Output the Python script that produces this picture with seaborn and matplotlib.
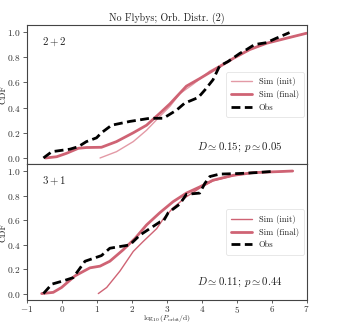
import numpy as np
import pandas as pd
import matplotlib
matplotlib.use("Agg")
import matplotlib.pyplot as plt
import seaborn as sns

# ---- data ----
top_obs_x = [-0.53, -0.29, 0.23, 0.47, 0.70, 0.99, 1.13, 1.42, 1.94, 2.51, 2.90, 3.28, 3.51, 3.90, 4.09, 4.32, 4.51, 4.75, 5.09, 5.28, 5.51, 5.85, 6.13, 6.51]
top_obs_y = [0.0, 0.05, 0.07, 0.09, 0.13, 0.16, 0.20, 0.26, 0.29, 0.315, 0.315, 0.38, 0.435, 0.48, 0.54, 0.62, 0.73, 0.765, 0.83, 0.86, 0.90, 0.915, 0.95, 0.995]
top_fin_x = [-0.47, -0.15, 0.13, 0.47, 0.70, 1.13, 1.56, 2.04, 2.42, 2.80, 3.09, 3.56, 3.94, 4.42, 4.90, 5.37, 5.85, 6.42, 7.0]
top_fin_y = [0.0, 0.01, 0.037, 0.077, 0.083, 0.085, 0.13, 0.20, 0.26, 0.355, 0.43, 0.57, 0.63, 0.71, 0.79, 0.86, 0.91, 0.95, 0.99]
top_ini_x = [1.09, 1.56, 2.04, 2.42, 2.80, 3.09, 3.37, 3.75, 4.23, 4.60, 4.90, 5.37, 5.85, 6.42, 7.0]
top_ini_y = [0.0, 0.05, 0.13, 0.22, 0.33, 0.41, 0.51, 0.585, 0.69, 0.745, 0.79, 0.86, 0.91, 0.95, 0.99]

bot_obs_x = [-0.53, -0.29, 0.04, 0.32, 0.66, 1.13, 1.37, 1.66, 1.94, 2.23, 2.80, 2.90, 3.04, 3.37, 3.56, 3.94, 4.09, 4.23, 4.51, 5.09, 5.56, 6.03]
bot_obs_y = [0.0, 0.077, 0.104, 0.13, 0.264, 0.31, 0.37, 0.384, 0.397, 0.477, 0.584, 0.59, 0.66, 0.73, 0.81, 0.82, 0.90, 0.955, 0.975, 0.98, 0.987, 0.997]
bot_fin_x = [-0.58, -0.25, -0.01, 0.37, 0.80, 1.09, 1.37, 1.75, 2.09, 2.42, 2.80, 3.18, 3.56, 3.94, 4.32, 4.90, 5.47, 6.60]
bot_fin_y = [0.0, 0.01, 0.05, 0.144, 0.21, 0.224, 0.264, 0.357, 0.45, 0.56, 0.66, 0.75, 0.82, 0.87, 0.925, 0.965, 0.987, 1.0]
bot_ini_x = [1.04, 1.28, 1.66, 2.04, 2.32, 2.71, 2.90, 3.18, 3.56, 3.94, 4.32, 4.90, 5.47, 6.60]
bot_ini_y = [0.0, 0.05, 0.184, 0.344, 0.424, 0.53, 0.61, 0.70, 0.79, 0.86, 0.92, 0.962, 0.985, 1.0]

panel_labels = ["$2+2$", "$3+1$"]
stats = [r"$D\simeq0.15$; $p\simeq0.05$", r"$D\simeq0.11$; $p\simeq0.44$"]
title = "No Flybys; Orb. Distr. (2)"
xticks = [-1, 0, 1, 2, 3, 4, 5, 6, 7]
yticks = [0.0, 0.2, 0.4, 0.6, 0.8, 1.0]

sns.set_style("ticks")
plt.rcParams.update({
    "font.family": "serif",
    "font.serif": ["cmr10"],
    "mathtext.fontset": "cm",
    "axes.formatter.use_mathtext": True,
    "axes.edgecolor": "#444444",
    "xtick.color": "#444444",
    "ytick.color": "#444444",
    "xtick.labelcolor": "#333333",
    "ytick.labelcolor": "#333333",
    "text.color": "#222222",
    "axes.labelcolor": "#222222",
    "axes.unicode_minus": True,
})

fig = plt.figure(figsize=(3.43, 3.25), dpi=100)
L, R = 0.0787, 0.894
ax1 = fig.add_axes([L, 0.4945, R - L, 0.923 - 0.4945])
ax2 = fig.add_axes([L, 0.0778, R - L, 0.4945 - 0.0778], sharex=ax1)

c_fin = "#cf6374"
c_ini = "#e39aa6"

panels = [
    (ax1, top_ini_x, top_ini_y, top_fin_x, top_fin_y, top_obs_x, top_obs_y),
    (ax2, bot_ini_x, bot_ini_y, bot_fin_x, bot_fin_y, bot_obs_x, bot_obs_y),
]
for i, (ax, ix, iy, fx, fy, ox, oy) in enumerate(panels):
    sns.lineplot(x=ix, y=iy, ax=ax, color=c_ini if i == 0 else c_fin, lw=1.0,
                 sort=False, estimator=None, label="Sim (init)")
    sns.lineplot(x=fx, y=fy, ax=ax, color=c_fin, lw=2.0,
                 sort=False, estimator=None, label="Sim (final)")
    sns.lineplot(x=ox, y=oy, ax=ax, color="black", lw=2.0, linestyle=(0, (3.2, 1.6)),
                 sort=False, estimator=None, label="Obs")
    ax.set_xlim(-1, 7)
    ax.set_ylim(-0.05, 1.055)
    ax.set_yticks(yticks)
    ax.set_xticks(xticks)
    ax.tick_params(labelsize=6.8, length=3, width=0.6, pad=1.5)
    for s in ax.spines.values():
        s.set_linewidth(0.8)
    ax.set_ylabel("CDF", fontsize=6.5)
    ax.yaxis.set_label_coords(-0.068, 0.5)
    ax.text(0.054, 0.88, panel_labels[i], transform=ax.transAxes, fontsize=7.8,
            va="center", ha="left")
    ax.text(0.914, 0.125, stats[i], transform=ax.transAxes, fontsize=7.8,
            va="center", ha="right")
    leg = ax.legend(loc="center right", fontsize=6.1, frameon=True,
                    borderaxespad=0.3, handlelength=2.5, labelspacing=0.5,
                    borderpad=0.6, fancybox=True)
    leg.get_frame().set_edgecolor("#dddddd")
    leg.get_frame().set_linewidth(0.6)

ax1.tick_params(axis="x", bottom=False, labelbottom=False)
ax1.set_xlabel("")
ax1.set_title(title, fontsize=7.2, pad=3)
ax2.tick_params(axis="x", pad=0.6, length=2.5, labelsize=6.6)
ax2.set_xlabel(r"$\log_{10}(P_{\rm orbit}/{\rm d})$", fontsize=5.4)
ax2.xaxis.set_label_coords(0.5, -0.1)

fig.savefig("out.png", dpi=100)
